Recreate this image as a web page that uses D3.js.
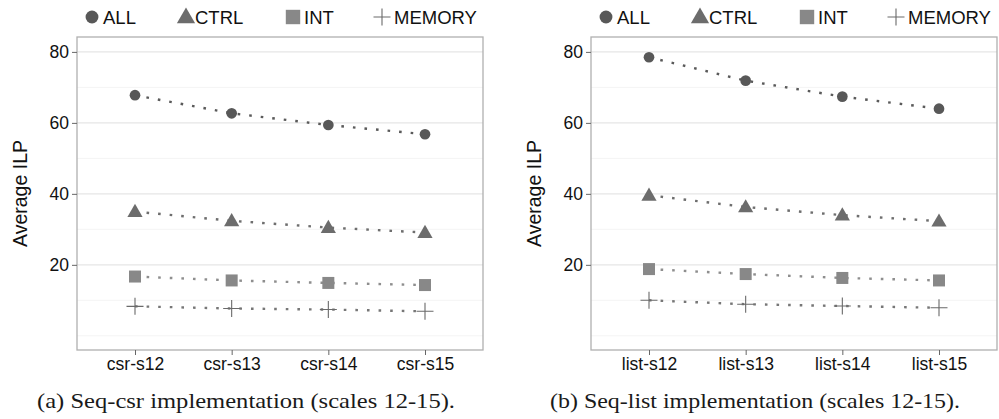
<!DOCTYPE html>
<html><head><meta charset="utf-8">
<script src="https://cdn.jsdelivr.net/npm/d3@7"></script>
<style>body{margin:0;background:#fff;} svg{display:block;}</style>
</head><body>
<svg id="chart" width="999" height="419"></svg>
<script>
const seriesNames = ["ALL", "CTRL", "INT", "MEMORY"];
const csrCategories = ["csr-s12", "csr-s13", "csr-s14", "csr-s15"];
const listCategories = ["list-s12", "list-s13", "list-s14", "list-s15"];
const csrAll = [67.8, 62.7, 59.4, 56.8];
const csrCtrl = [35.0, 32.4, 30.5, 29.1];
const csrInt = [16.7, 15.6, 14.9, 14.3];
const csrMemory = [8.3, 7.7, 7.4, 6.9];
const listAll = [78.5, 71.9, 67.4, 64.0];
const listCtrl = [39.6, 36.3, 34.0, 32.3];
const listInt = [18.8, 17.4, 16.3, 15.6];
const listMemory = [10.0, 8.9, 8.4, 7.9];
const yTicks = [20, 40, 60, 80];
const yMinor = [0, 10, 30, 50, 70];
const captions = ["(a) Seq-csr implementation (scales 12-15).", "(b) Seq-list implementation (scales 12-15)."];
const yTitle = "Average ILP";

const styles = {
  ALL: {fill: "#585858", line: "#5a5a5a"},
  CTRL: {fill: "#6c6c6c", line: "#6e6e6e"},
  INT: {fill: "#888888", line: "#8e8e8e"},
  MEMORY: {fill: "#6a6a6a", line: "#777777"}
};

const svg = d3.select("#chart");
const SANS = "'Liberation Sans', Arial, sans-serif";

function symbolPath(name, size) {
  if (name === "ALL") return d3.symbol(d3.symbolCircle, size)();
  if (name === "CTRL") return d3.symbol(d3.symbolTriangle, size)();
  return d3.symbol(d3.symbolSquare, size)();
}

function drawMarker(g, name, x, y, scale) {
  const s = scale || 1;
  if (name === "MEMORY") {
    const h = 8.5 * s;
    g.append("path").attr("d", `M${x - h},${y}H${x + h}M${x},${y - h}V${y + h}`)
      .attr("stroke", styles.MEMORY.fill).attr("stroke-width", 1.1).attr("fill", "none");
    return;
  }
  let size = name === "ALL" ? 90 : name === "CTRL" ? 100 : 144;
  size *= s * s;
  g.append("path").attr("d", symbolPath(name, size))
    .attr("transform", `translate(${x},${y + (name === "CTRL" ? 1 : 0)})`)
    .attr("fill", styles[name].fill);
}

function panel(ox, x0, x1, cats, data, caption, capCx, capW) {
  const g = svg.append("g");
  const top = 37, bottom = 350;
  const y = d3.scaleLinear().domain([-4, 84.2]).range([bottom, top]);
  const x = d3.scalePoint().domain(cats).range([x0, x1]).padding(0.6);

  g.selectAll(".minor").data(yMinor).enter().append("line")
    .attr("x1", x0).attr("x2", x1).attr("y1", d => y(d)).attr("y2", d => y(d))
    .attr("stroke", "#f4f4f4").attr("stroke-width", 1);
  g.selectAll(".major").data(yTicks).enter().append("line")
    .attr("x1", x0).attr("x2", x1).attr("y1", d => y(d)).attr("y2", d => y(d))
    .attr("stroke", "#e6e6e6").attr("stroke-width", 1.1);

  g.append("rect").attr("x", x0).attr("y", top).attr("width", x1 - x0).attr("height", bottom - top)
    .attr("fill", "none").attr("stroke", "#b0b0b0").attr("stroke-width", 1.3);

  const ya = g.append("g").attr("transform", `translate(${x0},0)`)
    .call(d3.axisLeft(y).tickValues(yTicks).tickSize(5).tickPadding(3));
  ya.select(".domain").remove();
  ya.selectAll("line").attr("stroke", "#666");
  ya.selectAll("text").attr("font-family", SANS).attr("font-size", 17.5).attr("fill", "#111");

  const xa = g.append("g").attr("transform", `translate(0,${bottom})`)
    .call(d3.axisBottom(x).tickSize(5).tickPadding(3));
  xa.select(".domain").remove();
  xa.selectAll("line").attr("stroke", "#666");
  xa.selectAll("text").attr("font-family", SANS).attr("font-size", 17.5).attr("fill", "#111");

  seriesNames.forEach((name, i) => {
    const vals = data[i];
    const line = d3.line().x((d, j) => x(cats[j])).y(d => y(d));
    g.append("path").attr("d", line(vals)).attr("fill", "none")
      .attr("stroke", styles[name].line).attr("stroke-width", 2.4)
      .attr("stroke-dasharray", "2.6 9");
    vals.forEach((v, j) => drawMarker(g, name, x(cats[j]), y(v)));
  });

  g.append("text").attr("transform", `translate(${ox + 27},${(top + bottom) / 2}) rotate(-90)`)
    .attr("text-anchor", "middle").attr("font-family", SANS)
    .attr("font-size", 19.5).attr("fill", "#111").text(yTitle);

  const lx = [x0 + 15, x0 + 109, x0 + 216, x0 + 305];
  const tx = [x0 + 26, x0 + 118, x0 + 227, x0 + 317];
  seriesNames.forEach((name, i) => {
    drawMarker(g, name, lx[i], 17, name === "MEMORY" ? 1 : 1.2);
    g.append("text").attr("x", tx[i]).attr("y", 24)
      .attr("font-family", SANS).attr("font-size", 18.5)
      .attr("fill", "#111").text(name);
  });

  g.append("text").attr("x", capCx).attr("y", 408).attr("text-anchor", "middle")
    .attr("font-family", "'Liberation Serif', 'DejaVu Serif', serif").attr("font-size", 21)
    .attr("textLength", capW).attr("lengthAdjust", "spacingAndGlyphs")
    .attr("fill", "#1a1a1a").text(caption);
}

panel(0, 77, 483, csrCategories, [csrAll, csrCtrl, csrInt, csrMemory], captions[0], 246, 418);
panel(514, 591, 997, listCategories, [listAll, listCtrl, listInt, listMemory], captions[1], 755, 410);
</script>
</body></html>
